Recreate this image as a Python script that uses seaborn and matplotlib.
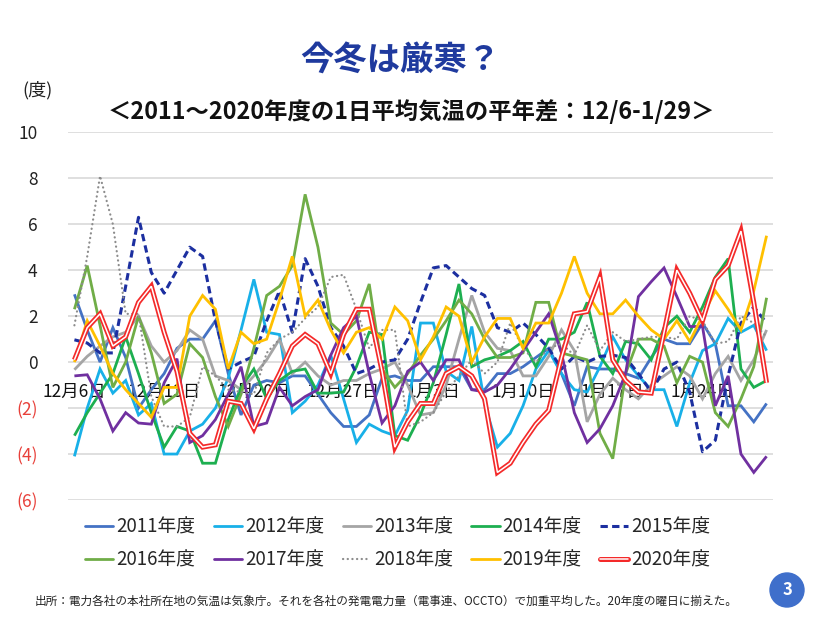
import pandas as pd
import matplotlib
matplotlib.use("Agg")
import matplotlib.pyplot as plt
import matplotlib.patheffects as pe
from matplotlib.lines import Line2D
from matplotlib.patches import Ellipse
import seaborn as sns

# 12/6 - 1/29 (55 days), daily deviation from normal temperature
days = list(range(55))
tick_pos = [0, 7, 14, 21, 28, 35, 42, 49]
tick_labels = ["12月6日", "12月13日", "12月20日", "12月27日",
               "1月3日", "1月10日", "1月17日", "1月24日"]
y_ticks = [10, 8, 6, 4, 2, 0, -2, -4, -6]
y_tick_labels = ["10", "8", "6", "4", "2", "0", "(2)", "(4)", "(6)"]

y2011 = [2.95, 1.4, 0.0, 1.5, 0.2, -2.0, -1.2, -0.5, 0.6, 1.0,
         1.0, 1.8, -0.5, -2.3, -1.0, -0.8, -0.9, -0.6, -0.6, -1.4,
         -2.2, -2.8, -2.8, -2.3, -0.7, -0.6, -0.8, -0.8, -0.2, -0.2,
         -0.2, -1.2, -1.2, -0.5, -0.5, -0.2, 0.2, 0.6, -0.5, -1.9,
         -0.2, -0.3, -0.3, -0.5, -0.7, 0.2, 1.0, 0.8, 0.8, 1.7,
         0.8, -1.9, -1.9, -2.6, -1.8]
y2012 = [-4.1, -2.0, -0.3, -1.35, -0.8, -2.3, -1.8, -4.0, -4.0, -3.0,
         -2.7, -2.0, -0.7, 1.4, 3.6, 1.3, 1.2, -2.2, -1.7, -1.0,
         0.3, -1.6, -3.5, -2.7, -3.0, -3.2, -2.1, 1.7, 1.7, -0.4,
         -0.8, 1.55, -1.8, -3.7, -3.1, -1.9, -0.3, 0.5, -0.5, -1.2,
         -1.3, -0.2, 1.1, 0.1, -0.6, -1.2, -1.2, -2.8, -0.9, 0.5,
         0.8, 1.9, 1.3, 1.6, 0.5]
y2013 = [-0.33, 0.25, 0.7, 1.1, 1.3, 2.0, 0.7, 0.0, 0.5, 1.4,
         1.0, -0.6, -0.8, -1.2, -0.6, 0.1, 1.0, -0.5, 0.0, -0.6,
         -1.0, -0.8, -0.8, -0.5, -0.3, 0.0, -1.0, -2.3, -2.2, -1.0,
         1.0, 2.9, 1.3, 0.6, 0.5, -0.6, -0.6, 0.25, 1.4, 0.5,
         -2.6, -1.4, -0.7, -1.2, -1.6, -1.0, -0.6, -0.2, -0.6, -1.6,
         -0.5, 0.25, -0.8, 0.1, 1.4]
y2014 = [-3.2, -2.2, -1.35, -0.5, 1.1, -0.5, -2.2, -3.7, -2.8, -3.0,
         -4.4, -4.4, -2.5, -1.1, -0.3, -1.6, -0.8, -0.4, -0.3, -1.35,
         -1.35, -1.3, -0.2, 1.3, 1.2, -3.2, -3.4, -2.3, -0.9, 1.2,
         3.4, -0.2, 0.1, 0.25, 0.5, 0.9, -0.2, 1.0, 1.0, 1.3,
         2.6, 0.25, -0.5, 0.9, 0.8, 0.1, 1.5, 2.0, 1.3, 2.4,
         3.7, 4.5, -0.3, -1.1, -0.8]
y2015 = [0.97, 0.83, 0.4, 0.4, 3.3, 6.3, 3.9, 3.0, 4.0, 5.0,
         4.6, 1.8, -0.3, 0.0, 0.25, 1.8, 3.1, 1.3, 4.5, 3.3,
         1.5, 0.7, -0.5, -0.3, 0.0, 0.1, 1.0, 2.6, 4.1, 4.2,
         3.7, 3.2, 2.9, 1.5, 1.3, 1.7, 1.2, 0.6, -0.3, 0.25,
         0.0, 0.25, 0.3, 0.2, -0.5, -1.3, -0.3, 0.0, -1.3, -3.9,
         -3.4, -0.6, 1.7, 2.4, 1.7]
y2016 = [2.3, 4.2, 1.6, -1.1, 0.0, 2.0, 0.4, -1.8, -1.4, 0.8,
         0.2, -1.5, -2.8, -1.4, 0.6, 2.9, 3.3, 4.2, 7.3, 5.0,
         1.7, 1.2, 1.8, 3.4, -0.3, -1.1, -0.5, 0.3, 1.0, 1.8,
         2.7, 2.1, 1.0, 0.2, 0.2, 0.4, 2.6, 2.6, 0.4, 0.25,
         0.1, -3.1, -4.2, -0.5, 1.0, 1.0, 0.7, -0.9, 0.25, 0.0,
         -2.2, -2.8, -1.6, -0.2, 2.8]
y2017 = [-0.6, -0.55, -1.6, -3.0, -2.2, -2.65, -2.7, -0.9, 0.15, -3.5,
         -3.2, -2.5, -1.4, -0.2, -2.8, -2.65, -1.1, -1.9, -1.5, -1.2,
         0.3, 1.5, 2.0, -0.5, -2.65, -1.9, -0.4, 0.0, -0.8, 0.1,
         0.1, -1.2, -1.3, -1.0, -0.3, 0.5, 1.3, 2.1, 0.4, -2.2,
         -3.5, -2.9, -1.9, -0.5, 2.85, 3.5, 4.1, 2.85, 1.55, 1.55,
         -1.9, -0.6, -4.0, -4.8, -4.1]
y2018 = [1.6, 4.6, 8.1, 6.0, 2.1, 2.1, -1.5, -2.8, -2.8, -2.4,
         -0.2, -0.6, -1.2, -1.3, -1.4, 0.4, 1.0, 1.3, 1.9, 2.4,
         3.7, 3.8, 2.3, 0.6, 1.4, 1.4, -2.8, -2.6, -2.2, -1.3,
         -0.6, 0.1, -0.5, 0.0, 1.7, 0.6, 0.0, 0.6, 0.8, 0.3,
         1.6, 0.5, 1.3, 0.9, 1.0, 1.1, 1.1, 1.0, 2.0, 1.8,
         0.8, 0.9, 2.0, 1.7, 1.1]
y2019 = [0.0, 1.8, 0.7, -0.5, -1.2, -1.8, -2.4, -1.1, -1.1, 2.0,
         2.9, 2.3, -0.3, 1.3, 0.8, 1.0, 2.7, 4.6, 2.0, 2.7,
         1.4, 0.4, 1.3, 1.5, 1.0, 2.4, 1.8, 0.1, 1.1, 2.4,
         2.0, 0.0, 1.1, 1.9, 1.9, 0.6, 1.7, 1.7, 3.0, 4.6,
         3.0, 2.1, 2.1, 2.7, 2.0, 1.4, 1.0, 1.8, 0.9, 2.0,
         3.1, 2.3, 1.4, 3.1, 5.5]
y2020 = [0.1, 1.5, 2.1, 0.7, 1.1, 2.6, 3.3, 1.3, -0.4, -3.1,
         -3.7, -3.6, -1.7, -1.8, -2.9, -1.6, -0.5, 0.7, 1.2, 0.8,
         -0.5, 1.2, 2.3, 2.3, -0.4, -3.7, -2.6, -1.8, -1.8, -0.5,
         -0.2, -0.6, -1.6, -4.8, -4.4, -3.5, -2.7, -2.1, 0.2, 2.1,
         2.2, 3.7, 0.1, -0.8, -1.3, -1.35, 1.3, 4.0, 3.0, 1.8,
         3.6, 4.2, 5.7, 2.6, -0.9]

years = ["2011年度", "2012年度", "2013年度", "2014年度", "2015年度",
         "2016年度", "2017年度", "2018年度", "2019年度", "2020年度"]
values = [y2011, y2012, y2013, y2014, y2015,
          y2016, y2017, y2018, y2019, y2020]

red_double = [pe.Stroke(linewidth=3.6, foreground="#F42A2A"), pe.Normal()]
styles = {
    "2011年度": dict(color="#4472C4", lw=2.0, ls="-"),
    "2012年度": dict(color="#18B0E8", lw=2.0, ls="-"),
    "2013年度": dict(color="#A5A5A5", lw=2.0, ls="-"),
    "2014年度": dict(color="#1DAF50", lw=2.0, ls="-"),
    "2015年度": dict(color="#1C2FA0", lw=2.2, ls=(0, (2.4, 1.4))),
    "2016年度": dict(color="#70AD47", lw=2.0, ls="-"),
    "2017年度": dict(color="#7030A0", lw=2.0, ls="-"),
    "2018年度": dict(color="#8C8C8C", lw=1.6, ls=(0, (0.1, 2.0))),
    "2019年度": dict(color="#FFC000", lw=2.0, ls="-"),
    "2020年度": dict(color="white", lw=1.1, ls="-", path_effects=red_double),
}

df = pd.DataFrame({
    "day": days * len(years),
    "value": sum(values, []),
    "year": [y for y in years for _ in days],
})

sns.set_theme(style="white")
plt.rcParams["font.family"] = ["Noto Sans CJK JP", "DejaVu Sans"]

fig = plt.figure(figsize=(8.34, 6.44), dpi=100)
ax = fig.add_axes([68 / 834, 1 - 500 / 644, 705 / 834, 367.7 / 644])

for i, year in enumerate(years):
    st = styles[year]
    sub = df[df["year"] == year]
    sns.lineplot(data=sub, x="day", y="value", ax=ax, color=st["color"],
                 linewidth=st["lw"], linestyle=st["ls"], zorder=3 + i)
    ln = ax.lines[-1]
    ln.set_solid_capstyle("butt")
    ln.set_solid_joinstyle("miter")
    if year == "2018年度":
        ln.set_dash_capstyle("round")
    if "path_effects" in st:
        ln.set_path_effects(st["path_effects"])

ax.set_xlim(-0.5, 54.5)
ax.set_ylim(-6, 10)
ax.set_yticks(y_ticks)
ax.set_yticklabels(y_tick_labels)
for lbl, v in zip(ax.get_yticklabels(), y_ticks):
    lbl.set_color("#E8403A" if v < 0 else "#222222")
ax.set_xticks(tick_pos)
ax.set_xticklabels(tick_labels)
ax.set_xlabel("")
ax.set_ylabel("")

ax.spines["bottom"].set_position(("data", 0))
for s in ax.spines.values():
    s.set_color("none")
ax.tick_params(axis="x", length=0, pad=15, labelsize=12.5, labelcolor="#111111")
ax.tick_params(axis="y", length=0, pad=22, labelsize=12.5)
ax.grid(axis="y", color="#D9D9D9", linewidth=1.2)
ax.grid(axis="x", visible=False)
ax.set_axisbelow(True)

# legend, row-wise order like the original
handles = {}
for year in years:
    st = styles[year]
    h = Line2D([], [], color=st["color"], lw=st["lw"], ls=st["ls"])
    if year == "2018年度":
        h.set_dash_capstyle("round")
    if "path_effects" in st:
        h.set_path_effects(st["path_effects"])
    handles[year] = h
order = ["2011年度", "2016年度", "2012年度", "2017年度", "2013年度",
         "2018年度", "2014年度", "2019年度", "2015年度", "2020年度"]
fig.legend([handles[y] for y in order], order, ncol=5, frameon=False,
           loc="center", bbox_to_anchor=(0.477, 1 - 543.5 / 644),
           fontsize=13.5, handlelength=1.5, handletextpad=0.15,
           columnspacing=1.0, labelspacing=0.62)

fig.text(0.48, 1 - 60 / 644, "今冬は厳寒？", ha="center", va="center",
         fontsize=24, fontweight="bold", color="#1F3A9E")
fig.text(0.493, 1 - 112 / 644, "＜2011～2020年度の1日平均気温の平年差：12/6-1/29＞",
         ha="center", va="center", fontsize=16.8, fontweight="bold", color="#111111")
fig.text(22 / 834, 1 - 90 / 644, "(度)", ha="left", va="center",
         fontsize=13, color="#222222")
fig.text(35 / 834, 1 - 601 / 644,
         "出所：電力各社の本社所在地の気温は気象庁。それを各社の発電電力量（電事連、OCCTO）で加重平均した。20年度の曜日に揃えた。",
         ha="left", va="center", fontsize=8.4, color="#222222")

circ = Ellipse((787 / 834, 1 - 590 / 644), 34 / 834, 34 / 644,
               transform=fig.transFigure, color="#3F6FCB", zorder=5)
fig.patches.append(circ)
fig.text(787 / 834, 1 - 590 / 644, "3", ha="center", va="center",
         fontsize=12, fontweight="bold", color="white", zorder=6)

fig.savefig("out.png", dpi=100)
